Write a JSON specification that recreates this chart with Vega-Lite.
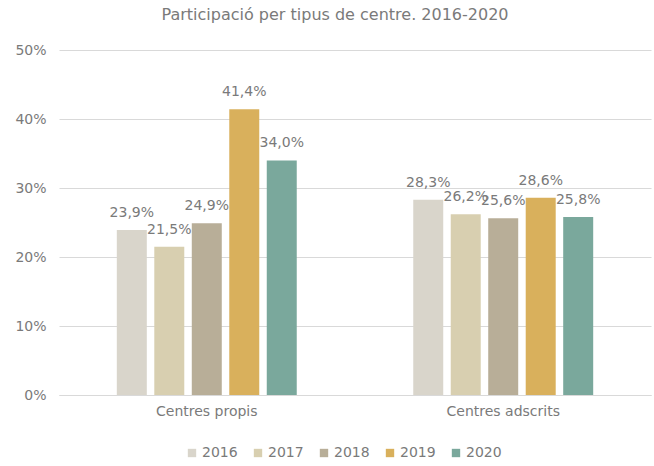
{
  "$schema": "https://vega.github.io/schema/vega-lite/v6.json",
  "width": 592,
  "height": 345,
  "padding": {"left": 14, "top": 7, "right": 4, "bottom": 5},
  "background": "white",
  "title": {"text": "Participació per tipus de centre. 2016-2020", "font": "DejaVu Sans", "fontSize": 16, "fontWeight": "normal", "color": "#7a7a7a", "offset": 20, "anchor": "middle", "baseline": "top", "dx": -20},
  "config": {
    "locale": {"number": {"decimal": ",", "thousands": ".", "grouping": [3], "currency": ["", " €"]}},
    "view": {"stroke": null},
    "font": "DejaVu Sans"
  },
  "data": {"values": [
    {"tipus": "Centres propis", "any": "2016", "valor": 0.239},
    {"tipus": "Centres propis", "any": "2017", "valor": 0.215},
    {"tipus": "Centres propis", "any": "2018", "valor": 0.249},
    {"tipus": "Centres propis", "any": "2019", "valor": 0.414},
    {"tipus": "Centres propis", "any": "2020", "valor": 0.340},
    {"tipus": "Centres adscrits", "any": "2016", "valor": 0.283},
    {"tipus": "Centres adscrits", "any": "2017", "valor": 0.262},
    {"tipus": "Centres adscrits", "any": "2018", "valor": 0.256},
    {"tipus": "Centres adscrits", "any": "2019", "valor": 0.286},
    {"tipus": "Centres adscrits", "any": "2020", "valor": 0.258}
  ]},
  "encoding": {
    "x": {"field": "tipus", "type": "nominal", "sort": ["Centres propis", "Centres adscrits"],
      "scale": {"paddingInner": 0.393, "paddingOuter": 0.195},
      "axis": {"title": null, "labelAngle": 0, "labelFontSize": 14, "labelColor": "#7a7a7a", "domainColor": "#d9d9d9", "ticks": false, "labelPadding": 9}},
    "xOffset": {"field": "any", "type": "nominal", "scale": {"paddingInner": 0.2, "paddingOuter": 0}},
    "y": {"field": "valor", "type": "quantitative",
      "scale": {"domain": [0, 0.5], "nice": false},
      "axis": {"title": null, "format": ".0%", "values": [0, 0.1, 0.2, 0.3, 0.4, 0.5], "labelOverlap": false, "labelFontSize": 14, "labelColor": "#7a7a7a", "gridColor": "#d9d9d9", "domain": false, "ticks": false, "labelPadding": 13}}
  },
  "layer": [
    {"mark": {"type": "bar"},
      "encoding": {"color": {"field": "any", "type": "nominal",
        "scale": {"domain": ["2016", "2017", "2018", "2019", "2020"], "range": ["#d9d5cb", "#d8cfb0", "#b8ae98", "#d9b05c", "#7aa89c"]},
        "legend": {"title": null, "orient": "none", "legendX": 126, "legendY": 396, "direction": "horizontal", "symbolType": "square", "symbolSize": 70, "symbolStrokeWidth": 0, "labelFontSize": 14, "labelColor": "#7a7a7a", "labelOffset": 3, "columnPadding": 13}}}},
    {"mark": {"type": "text", "dy": -17, "fontSize": 14, "color": "#7a7a7a"},
      "encoding": {"text": {"field": "valor", "type": "quantitative", "format": ".1%"}}}
  ]
}
